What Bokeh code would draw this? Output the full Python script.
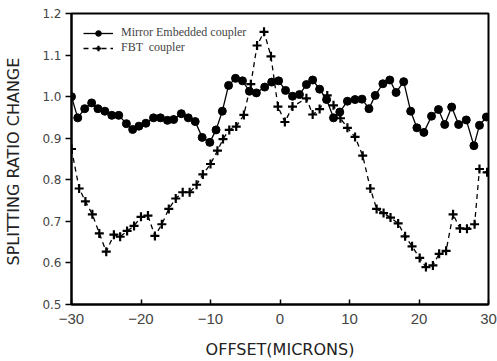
from bokeh.plotting import figure
from bokeh.models import Range1d, FixedTicker, Legend, LegendItem
from bokeh.embed import file_html
from bokeh.resources import INLINE

mirror_x = [-30, -29.1, -28.1, -27.1, -26.2, -25.2, -24.2, -23.2, -22.1, -21.2,
            -20.3, -19.3, -18.2, -17.2, -16.2, -15.3, -14.2, -13.2, -12.2, -11.2,
            -10.1, -9.2, -8.3, -7.4, -6.4, -5.4, -4.4, -3.4, -2.2, -1.2,
            -0.2, 0.8, 1.8, 2.8, 3.8, 4.7, 5.7, 6.7, 7.7, 8.6,
            9.7, 10.8, 11.8, 12.8, 13.7, 14.8, 15.8, 16.7, 17.8, 18.8,
            19.7, 20.7, 21.8, 22.8, 23.7, 24.7, 25.7, 26.8, 27.9, 28.7, 29.7]
mirror_y = [1.000, 0.949, 0.971, 0.985, 0.971, 0.965, 0.955, 0.955, 0.935, 0.921,
            0.929, 0.936, 0.949, 0.949, 0.943, 0.945, 0.959, 0.949, 0.940, 0.902,
            0.890, 0.920, 0.965, 1.027, 1.044, 1.038, 1.013, 1.009, 1.023, 1.035,
            1.038, 1.015, 1.001, 1.005, 1.029, 1.040, 1.018, 0.993, 0.949, 0.963,
            0.989, 0.993, 0.994, 0.971, 1.003, 1.031, 1.040, 1.010, 1.036, 0.965,
            0.925, 0.914, 0.953, 0.969, 0.933, 0.975, 0.933, 0.944, 0.882, 0.931, 0.951]

fbt_x = [-30, -28.9, -28, -27, -26, -25, -23.9, -23, -22, -21,
         -20, -19, -18, -17, -16, -15, -14, -13, -12, -11.1,
         -10, -9.0, -8.2, -7.3, -6.3, -5.2, -4.2, -3.3, -2.3, -1.3,
         -0.3, 0.7, 1.8, 3.8, 4.7, 5.7, 6.8, 7.7, 8.7, 9.7,
         10.8, 11.9, 13, 13.9, 14.9, 15.9, 17, 18, 19, 20.1,
         21, 22, 22.9, 23.9, 24.9, 25.9, 26.9, 28, 28.7, 29.8]
fbt_y = [0.874, 0.779, 0.748, 0.717, 0.671, 0.627, 0.668, 0.663, 0.677, 0.689,
         0.711, 0.714, 0.665, 0.693, 0.730, 0.755, 0.770, 0.770, 0.788, 0.813,
         0.838, 0.870, 0.898, 0.920, 0.928, 0.956, 1.030, 1.123, 1.156, 1.097,
         0.976, 0.939, 0.976, 0.996, 0.957, 0.970, 1.003, 0.979, 0.948, 0.925,
         0.903, 0.858, 0.779, 0.730, 0.720, 0.709, 0.695, 0.664, 0.640, 0.612,
         0.590, 0.594, 0.622, 0.629, 0.717, 0.683, 0.682, 0.693, 0.826, 0.818]

x_ticks = [-30, -20, -10, 0, 10, 20, 30]
x_tick_labels = ["\u221230", "\u221220", "\u221210", "0", "10", "20", "30"]
y_ticks = [0.5, 0.6, 0.7, 0.8, 0.9, 1.0, 1.1, 1.2]
y_tick_labels = ["0.5", "0.6", "0.7", "0.8", "0.9", "1.0", "1.1", "1.2"]

series_names = ["Mirror Embedded coupler", "FBT  coupler"]

p = figure(width=497, height=361, output_backend="svg", toolbar_location=None,
           x_range=Range1d(-30, 30), y_range=Range1d(0.5, 1.2))
p.min_border_left = 71
p.min_border_right = 9
p.min_border_top = 13
p.min_border_bottom = 54
p.background_fill_color = "white"
p.border_fill_color = "white"
p.grid.visible = False
p.outline_line_color = "black"
p.outline_line_width = 2

for ax in (p.xaxis[0], p.yaxis[0]):
    ax.axis_line_width = 2
    ax.axis_line_color = "black"
    ax.major_tick_line_width = 1.5
    ax.minor_tick_line_color = None
    ax.axis_label_text_font = "DejaVu Sans"
    ax.axis_label_text_font_style = "normal"
    ax.axis_label_text_font_size = "16px"
    ax.axis_label_text_color = "#222222"

p.xaxis.ticker = FixedTicker(ticks=x_ticks)
p.xaxis.major_label_overrides = dict(zip(x_ticks, x_tick_labels))
p.xaxis.major_tick_in = 5
p.xaxis.major_tick_out = 0
p.xaxis.major_label_standoff = 9
p.xaxis.major_label_text_font = "Liberation Sans"
p.xaxis.major_label_text_font_size = "15px"
p.xaxis.axis_label = "OFFSET(MICRONS)"
p.xaxis.axis_label_standoff = 13

p.yaxis.ticker = FixedTicker(ticks=y_ticks)
p.yaxis.major_label_overrides = dict(zip(y_ticks, y_tick_labels))
p.yaxis.major_tick_in = 0
p.yaxis.major_tick_out = 6
p.yaxis.major_label_standoff = 4
p.yaxis.major_label_text_font = "DejaVu Sans"
p.yaxis.major_label_text_font_size = "12px"
p.yaxis.axis_label = "SPLITTING RATIO  CHANGE"
p.yaxis.axis_label_standoff = 16

l1 = p.line(mirror_x, mirror_y, line_color="black", line_width=1.3)
m1 = p.scatter(mirror_x, mirror_y, marker="circle", size=8, fill_color="black",
               line_color="black")
l2 = p.line(fbt_x, fbt_y, line_color="black", line_width=1.3, line_dash="5 4")
m2 = p.scatter(fbt_x, fbt_y, marker="cross", size=9, line_color="black",
               line_width=2.2)

legend = Legend(items=[LegendItem(label=series_names[0], renderers=[l1, m1]),
                       LegendItem(label=series_names[1], renderers=[l2, m2])],
                location="top_left")
legend.label_text_font = "Liberation Serif"
legend.label_text_font_size = "12px"
legend.label_standoff = 8
legend.glyph_width = 30
legend.glyph_height = 14
legend.spacing = 0
legend.padding = 6
legend.margin = 6
legend.border_line_alpha = 0
legend.background_fill_alpha = 0
p.add_layout(legend)

open("out.html", "w").write(file_html(p, INLINE))
